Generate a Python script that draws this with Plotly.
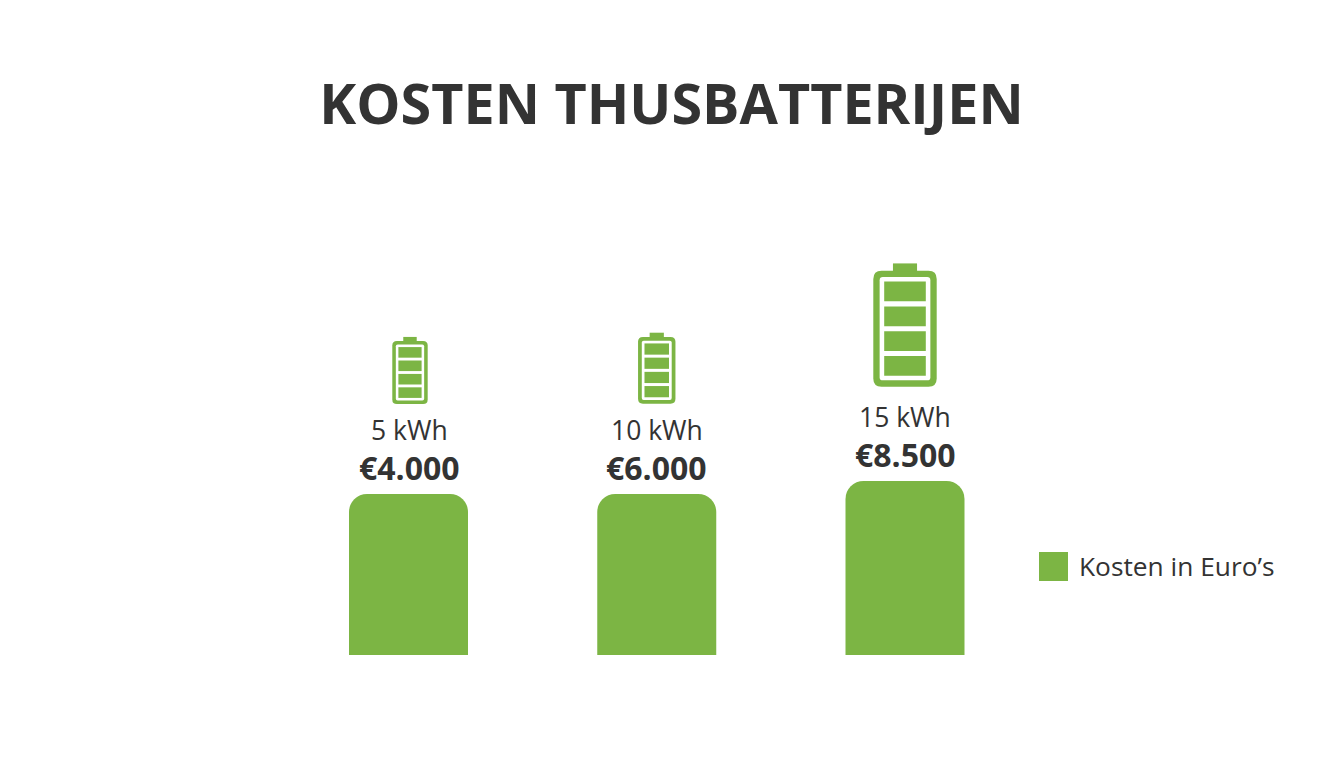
import plotly.graph_objects as go

# chart values
categories = ['5 kWh', '10 kWh', '15 kWh']
cost_labels = ['€4.000', '€6.000', '€8.500']
# bars in the picture are not to scale with the cost, so these are the drawn heights
bar_heights = [161, 161, 174]
# battery icon sizes, same units as the bars
icon_widths = [35.4, 37.4, 63.4]
icon_heights = [63, 66.7, 116]
icon_bottoms = [251, 251.3, 268.3]
icon_centers = [0.006, 0.0, 0.0]
legend_name = 'Kosten in Euro\u2019s'

GREEN = '#7cb544'
DARK = '#333333'
X_STEP = 248.25  # pixels per category
# the page keeps its 8px body margin, so figure pixels are page pixels minus 8
FIRST_BAR = 408.5 - 8
BASELINE = 655 - 8


def rounded_rect(x0, x1, y0, y1, r):
    # r is in pixels, x runs in category units
    rx = r / X_STEP
    return (f'M {x0 + rx} {y0} L {x1 - rx} {y0} Q {x1} {y0} {x1} {y0 + r} '
            f'L {x1} {y1 - r} Q {x1} {y1} {x1 - rx} {y1} L {x0 + rx} {y1} '
            f'Q {x0} {y1} {x0} {y1 - r} L {x0} {y0 + r} Q {x0} {y0} {x0 + rx} {y0} Z')


def battery_shapes(cx, width, height, bottom):
    shapes = []
    half = width / 2 / X_STEP
    top = bottom + height
    border = width * 0.1
    bx = border / X_STEP
    inset = width * 0.172
    ix = inset / X_STEP
    gap = width * 0.08
    cap_half = width * 0.19 / X_STEP
    cap_h = width * 0.115
    solid = dict(type='path', fillcolor=GREEN, line_width=0, layer='above')
    shapes.append(dict(solid, path=rounded_rect(cx - half, cx + half, bottom, top, width * 0.13)))
    shapes.append(dict(solid, fillcolor='white',
                       path=rounded_rect(cx - half + bx, cx + half - bx, bottom + border, top - border, width * 0.05)))
    shapes.append(dict(type='rect', xref='x', yref='y', x0=cx - cap_half, x1=cx + cap_half,
                       y0=top - 0.5, y1=top + cap_h, fillcolor=GREEN, line_width=0, layer='above'))
    cell_h = (height - 2 * inset - 3 * gap) / 4
    for n in range(4):
        y0 = bottom + inset + n * (cell_h + gap)
        shapes.append(dict(type='rect', xref='x', yref='y', x0=cx - half + ix, x1=cx + half - ix,
                           y0=y0, y1=y0 + cell_h, fillcolor=GREEN, line_width=0, layer='above'))
    return shapes


positions = list(range(len(categories)))

fig = go.Figure(go.Bar(
    x=positions,
    y=bar_heights,
    width=119 / X_STEP,
    marker=dict(color=GREEN, cornerradius=18, line_width=0),
    customdata=cost_labels,
    hovertemplate='%{customdata}<extra></extra>',
))

shapes = []
annotations = []
for i, pos in enumerate(positions):
    shapes += battery_shapes(pos + icon_centers[i], icon_widths[i], icon_heights[i], icon_bottoms[i])
    annotations.append(dict(x=pos + icon_centers[i], y=bar_heights[i] + 64, text=categories[i], showarrow=False,
                            yanchor='middle', font=dict(family='Open Sans', size=26.5, color=DARK)))
    annotations.append(dict(x=pos + icon_centers[i], y=bar_heights[i] + 26.5, text=f'<b>{cost_labels[i]}</b>',
                            showarrow=False, yanchor='middle', font=dict(family='Open Sans', size=32, color=DARK)))

# legend swatch and its label
shapes.append(dict(type='rect', xref='paper', yref='paper', x0=1031 / 1344, x1=1060 / 1344,
                   y0=1 - 573 / 768, y1=1 - 544 / 768, fillcolor=GREEN, line_width=0))
annotations.append(dict(xref='paper', yref='paper', x=1068.5 / 1344, y=1 - 558 / 768, text=legend_name,
                        xanchor='left', yanchor='middle', showarrow=False,
                        font=dict(family='Open Sans', size=26.3, color=DARK)))

fig.update_layout(
    width=1344,
    height=768,
    margin=dict(l=0, r=0, t=0, b=0),
    paper_bgcolor='white',
    plot_bgcolor='white',
    showlegend=False,
    title=dict(text='<b>KOSTEN THUSBATTERIJEN</b>', x=663.5 / 1344, xanchor='center', y=1 - 97 / 768, yanchor='middle',
               font=dict(family='Open Sans', size=55.7, color=DARK)),
    xaxis=dict(visible=False, range=[-FIRST_BAR / X_STEP, (1344 - FIRST_BAR) / X_STEP]),
    yaxis=dict(visible=False, range=[BASELINE - 768, BASELINE]),
    shapes=shapes,
    annotations=annotations,
)

fig.write_html('out.html')
